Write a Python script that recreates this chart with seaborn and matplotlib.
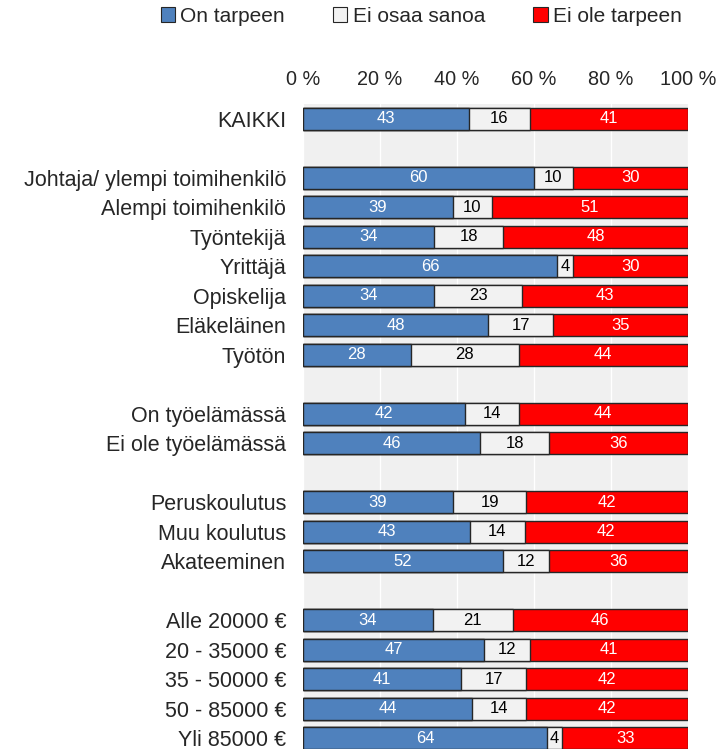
import numpy as np
import pandas as pd
import matplotlib
matplotlib.use("Agg")
import matplotlib.pyplot as plt
from matplotlib.patches import Patch
import seaborn as sns

groups = ["KAIKKI", "",
          "Johtaja/ ylempi toimihenkilö", "Alempi toimihenkilö", "Työntekijä",
          "Yrittäjä", "Opiskelija", "Eläkeläinen", "Työtön", " ",
          "On työelämässä", "Ei ole työelämässä", "  ",
          "Peruskoulutus", "Muu koulutus", "Akateeminen", "   ",
          "Alle 20000 €", "20 - 35000 €", "35 - 50000 €", "50 - 85000 €", "Yli 85000 €"]

on_tarpeen = [43, None, 60, 39, 34, 66, 34, 48, 28, None, 42, 46, None, 39, 43, 52, None, 34, 47, 41, 44, 64]
ei_osaa = [16, None, 10, 10, 18, 4, 23, 17, 28, None, 14, 18, None, 19, 14, 12, None, 21, 12, 17, 14, 4]
ei_ole = [41, None, 30, 51, 48, 30, 43, 35, 44, None, 44, 36, None, 42, 42, 36, None, 46, 41, 42, 42, 33]

series = ["On tarpeen", "Ei osaa sanoa", "Ei ole tarpeen"]
colors = ["#4F81BD", "#F2F2F2", "#FF0000"]
text_colors = ["white", "black", "white"]
edge = "#262626"

df = pd.DataFrame({"group": groups, "on": on_tarpeen, "eos": ei_osaa, "ei": ei_ole}).dropna()
total = df["on"] + df["eos"] + df["ei"]
df["c1"] = df["on"] / total * 100
df["c2"] = (df["on"] + df["eos"]) / total * 100
df["c3"] = 100.0

sns.set_style("whitegrid", {"axes.facecolor": "#F0F0F0", "grid.color": "white",
                            "axes.edgecolor": "none"})
plt.rcParams["font.family"] = ["Liberation Sans", "DejaVu Sans"]

fig = plt.figure(figsize=(7.26, 7.49), dpi=100)
ax = fig.add_axes([0.4174, -0.0053, 0.5303, 0.8664])

# stacked look: draw cumulative bars from the full one down to the first segment
for col, c in zip(["c3", "c2", "c1"], colors[::-1]):
    sns.barplot(data=df, y="group", x=col, order=groups, orient="h", color=c,
                width=0.75, edgecolor=edge, linewidth=1.0, saturation=1, ax=ax)

pos = {g: i for i, g in enumerate(groups)}
for _, r in df.iterrows():
    y = pos[r["group"]]
    lefts = [0, r["c1"], r["c2"]]
    rights = [r["c1"], r["c2"], 100]
    vals = [r["on"], r["eos"], r["ei"]]
    for l, rt, v, tc in zip(lefts, rights, vals, text_colors):
        ax.text((l + rt) / 2, y, f"{int(v)}", ha="center", va="center",
                color=tc, fontsize=12)

ax.set_xlim(0, 100)
ax.set_ylim(len(groups) - 0.5, -0.5)
ax.set_xticks([0, 20, 40, 60, 80, 100])
ax.set_xticklabels([f"{t} %" for t in [0, 20, 40, 60, 80, 100]])
ax.xaxis.tick_top()
ax.tick_params(axis="x", length=0, pad=11, labelsize=14.3)
ax.tick_params(axis="y", length=0, pad=12, labelsize=15.5)
ax.grid(axis="y", visible=False)
ax.grid(axis="x", color="white", linewidth=1)
ax.set_xlabel("")
ax.set_ylabel("")
for s in ax.spines.values():
    s.set_visible(False)

handles = [Patch(facecolor=c, edgecolor=edge, linewidth=0.8) for c in colors]
fig.legend(handles, series, loc="center", bbox_to_anchor=(0.58, 0.978), ncol=3,
           frameon=False, fontsize=15, handlelength=0.7, handleheight=0.7,
           handletextpad=0.25, columnspacing=2.3)

fig.savefig("out.png", dpi=100)
